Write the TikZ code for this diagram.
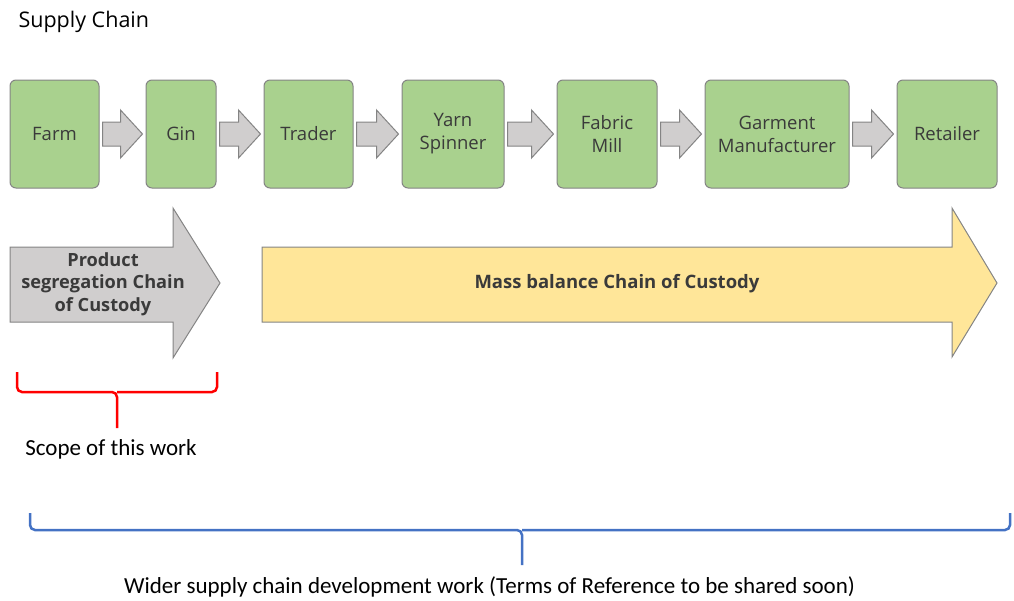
\documentclass[tikz,border=0pt]{standalone}
\usepackage{fontspec}
\setmainfont{Open Sans}
\newfontfamily\calfont{Carlito}
\usetikzlibrary{calc}
\definecolor{stagegreen}{HTML}{A9D18E}
\definecolor{stageline}{HTML}{848484}
\definecolor{arrowgray}{HTML}{D0CECE}
\definecolor{massyellow}{HTML}{FFE699}
\definecolor{textgray}{HTML}{3A3A3A}
\definecolor{scopered}{HTML}{FF0000}
\definecolor{widerblue}{HTML}{4472C4}
\tikzstyle{stage}=[draw=stageline,fill=stagegreen,rounded corners=6pt,line width=1pt,minimum height=108pt,align=center,text=textgray,font=\fontsize{18.5}{23}\selectfont]
\tikzstyle{smallarrow}=[draw=stageline,fill=arrowgray,line width=1pt,line join=miter]
\tikzstyle{bigarrow}=[draw=stageline,line width=1pt,line join=miter]
\tikzstyle{bracket}=[line width=2.5pt,rounded corners=5pt]
\newcommand{\flowarrow}[2]{%
  \draw[smallarrow] let \p1=($(#1.east)+(3,0)$), \p2=($(#2.west)-(3,0)$) in
    (\x1,\y1+12) -- (\x2-22,\y1+12) -- (\x2-22,\y1+24) -- (\x2,\y1)
    -- (\x2-22,\y1-24) -- (\x2-22,\y1-12) -- (\x1,\y1-12) -- cycle;}
\begin{document}
\begin{tikzpicture}[x=1pt,y=-1pt]
\useasboundingbox (0,0) rectangle (1014,600);
\node[anchor=west,font=\fontsize{21.5}{24}\selectfont] at (15,22) (title) {Supply Chain};
% stages of the chain
\node[stage,minimum width=89pt] at (54.5,134) (farm) {Farm};
\node[stage,minimum width=70pt] at (181,134) (gin) {Gin};
\node[stage,minimum width=89pt] at (308.5,134) (trader) {Trader};
\node[stage,minimum width=102pt] at (453,134) (spinner) {Yarn\\Spinner};
\node[stage,minimum width=100pt] at (607,134) (mill) {Fabric\\Mill};
\node[stage,minimum width=144pt] at (777,134) (garment) {Garment\\Manufacturer};
\node[stage,minimum width=100pt] at (947,134) (retailer) {Retailer};
\flowarrow{farm}{gin}
\flowarrow{gin}{trader}
\flowarrow{trader}{spinner}
\flowarrow{spinner}{mill}
\flowarrow{mill}{garment}
\flowarrow{garment}{retailer}
% chain of custody models
\draw[bigarrow,fill=arrowgray] (10,247) -- (173,247) -- (173,208) -- (220,283)
  -- (173,358) -- (173,322) -- (10,322) -- cycle;
\node[align=center,text=textgray,font=\fontsize{18.2}{22.5}\selectfont\bfseries] at (103,284) (segregation) {Product\\segregation Chain\\of Custody};
\draw[bigarrow,fill=massyellow] (262,247) -- (952,247) -- (952,208) -- (997,283)
  -- (952,357) -- (952,322) -- (262,322) -- cycle;
\node[text=textgray,font=\fontsize{18.5}{20}\selectfont\bfseries] at (617,284) (massbalance) {Mass balance Chain of Custody};
% brackets
\coordinate (scopetip) at (117,428);
\draw[bracket,draw=scopered] (17,372) |- (117,392) -- (scopetip);
\draw[bracket,draw=scopered] (217,372) |- (117,392);
\node[font=\calfont\fontsize{23}{25}\selectfont] at (111,449) (scope) {Scope of this work};
\coordinate (widertip) at (522,565);
\draw[bracket,draw=widerblue] (30,513) |- (522,530) -- (widertip);
\draw[bracket,draw=widerblue] (1010,513) |- (522,530);
\node[font=\calfont\fontsize{23}{25}\selectfont] at (489.5,587) (wider) {Wider supply chain development work (Terms of Reference to be shared soon)};
\end{tikzpicture}
\end{document}
